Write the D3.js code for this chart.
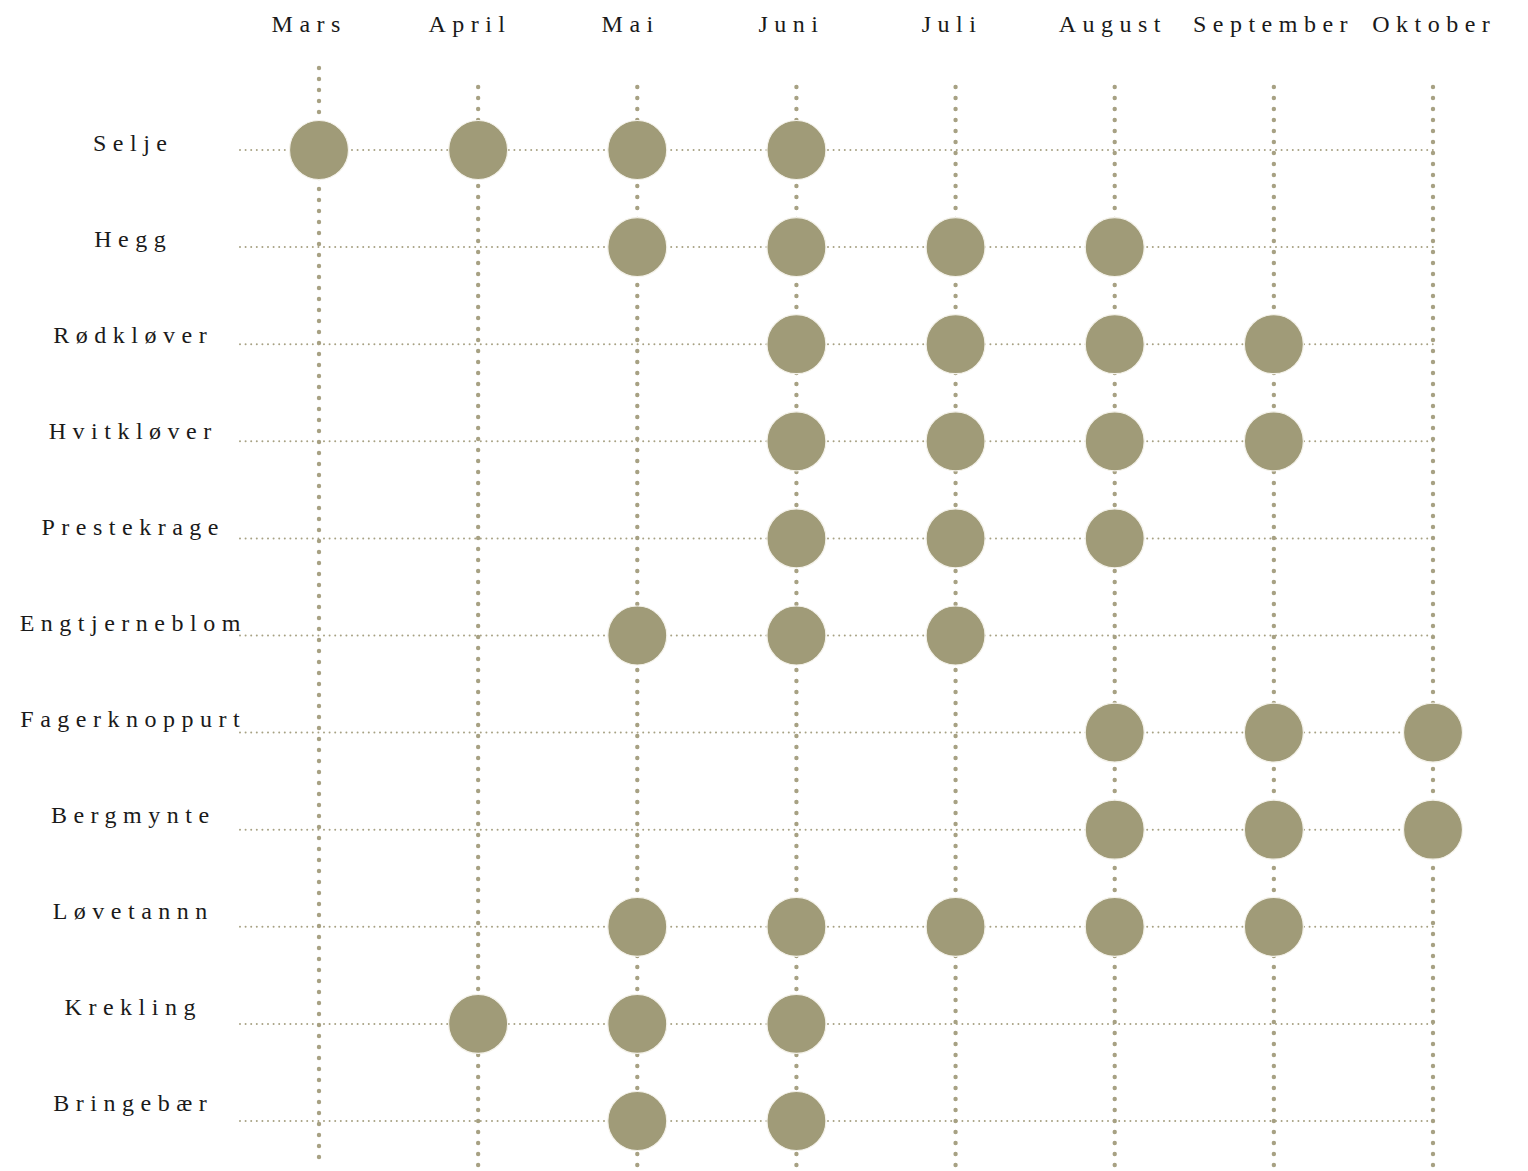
<!DOCTYPE html>
<html>
<head>
<meta charset="utf-8">
<script src="https://cdn.jsdelivr.net/npm/d3@7"></script>
<style>
  html, body { margin: 0; padding: 0; background: #fff; }
  svg { display: block; }
</style>
</head>
<body>
<svg id="chart" width="1528" height="1171"></svg>
<script>
// ---- data ----
const months = ["Mars", "April", "Mai", "Juni", "Juli", "August", "September", "Oktober"];
const plants = ["Selje", "Hegg", "Rødkløver", "Hvitkløver", "Prestekrage", "Engtjerneblom",
                "Fagerknoppurt", "Bergmynte", "Løvetannn", "Krekling", "Bringebær"];
const bloomSelje         = ["Mars", "April", "Mai", "Juni"];
const bloomHegg          = ["Mai", "Juni", "Juli", "August"];
const bloomRodklover     = ["Juni", "Juli", "August", "September"];
const bloomHvitklover    = ["Juni", "Juli", "August", "September"];
const bloomPrestekrage   = ["Juni", "Juli", "August"];
const bloomEngtjerneblom = ["Mai", "Juni", "Juli"];
const bloomFagerknoppurt = ["August", "September", "Oktober"];
const bloomBergmynte     = ["August", "September", "Oktober"];
const bloomLovetannn     = ["Mai", "Juni", "Juli", "August", "September"];
const bloomKrekling      = ["April", "Mai", "Juni"];
const bloomBringebaer    = ["Mai", "Juni"];

const bloom = [bloomSelje, bloomHegg, bloomRodklover, bloomHvitklover, bloomPrestekrage,
  bloomEngtjerneblom, bloomFagerknoppurt, bloomBergmynte, bloomLovetannn, bloomKrekling, bloomBringebaer];
const points = [];
plants.forEach((p, i) => bloom[i].forEach(m => points.push({ plant: p, month: m })));

// ---- layout ----
const svg = d3.select("#chart");
const col = "#a09b78";
const lineCol = "#a7a183";

const x = d3.scalePoint().domain(months).range([319, 1433]);
const xLabel = d3.scalePoint().domain(months).range([306, 1431]);
const y = d3.scalePoint().domain(plants).range([150, 1121]);
const yLabel = d3.scalePoint().domain(plants).range([151, 1111]);

const gridTop = 87, gridBottom = 1168, gridLeft = 240, gridRight = 1435;

// vertical dotted lines
svg.append("g").selectAll("line").data(months).join("line")
  .attr("x1", d => x(d)).attr("x2", d => x(d))
  .attr("y1", (d, i) => i === 0 ? gridTop - 19 : gridTop)
  .attr("y2", gridBottom)
  .attr("stroke", lineCol)
  .attr("stroke-width", 4.4)
  .attr("stroke-linecap", "round")
  .attr("stroke-dasharray", "0 11");

// horizontal dotted lines
svg.append("g").selectAll("line").data(plants).join("line")
  .attr("x1", gridLeft).attr("x2", gridRight)
  .attr("y1", d => y(d)).attr("y2", d => y(d))
  .attr("stroke", lineCol)
  .attr("stroke-width", 2)
  .attr("stroke-linecap", "round")
  .attr("stroke-dasharray", "0 5.6");

// circles
svg.append("g").selectAll("circle").data(points).join("circle")
  .attr("cx", d => x(d.month))
  .attr("cy", d => y(d.plant))
  .attr("r", 29.5)
  .attr("fill", col)
  .attr("stroke", "#f4f2ea")
  .attr("stroke-width", 1.2);

// month labels
const lsM = 6.5;
svg.append("g").selectAll("text").data(months).join("text")
  .attr("x", d => xLabel(d) + lsM / 2)
  .attr("y", 32)
  .attr("text-anchor", "middle")
  .attr("font-family", "'Liberation Serif', 'DejaVu Serif', serif")
  .attr("font-size", 24)
  .attr("letter-spacing", lsM)
  .attr("fill", "#1a1a1a")
  .text(d => d);

// plant labels
const lsP = 6.5;
svg.append("g").selectAll("text").data(plants).join("text")
  .attr("x", 130 + lsP / 2)
  .attr("y", d => yLabel(d))
  .attr("text-anchor", "middle")
  .attr("font-family", "'Liberation Serif', 'DejaVu Serif', serif")
  .attr("font-size", 24)
  .attr("letter-spacing", lsP)
  .attr("fill", "#1a1a1a")
  .text(d => d);
</script>
</body>
</html>
